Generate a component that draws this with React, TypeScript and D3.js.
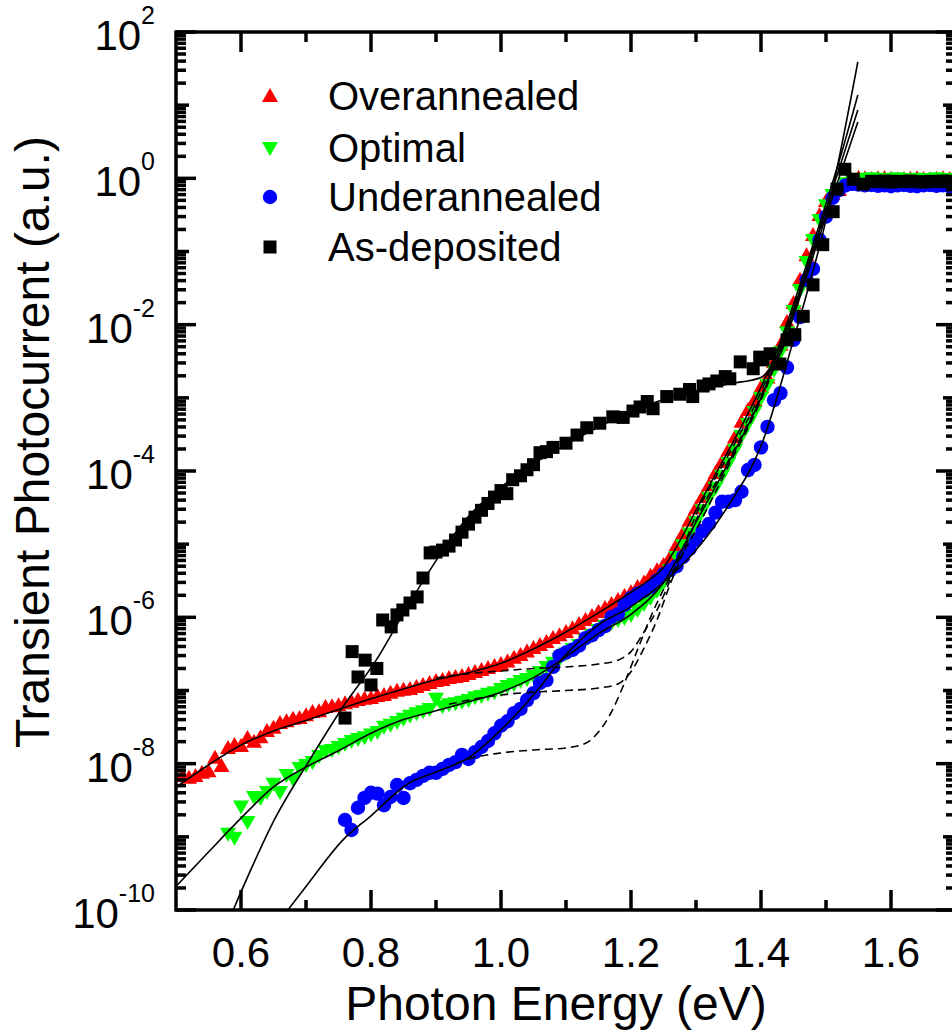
import React, { useEffect, useRef } from "react"
import * as d3 from "d3"

// ---- data (photon energy eV, transient photocurrent a.u.) ----
const overannealed: [number, number][] = [
  [0.51, 6.8e-9], [0.52, 6.4e-9], [0.53, 6.8e-9], [0.54, 7.5e-9], [0.55, 7.9e-9], [0.56, 1.2e-8], [0.57, 9.3e-9],
  [0.58, 1.64e-8], [0.59, 1.8e-8], [0.60, 1.75e-8], [0.61, 2.25e-8], [0.62, 2.0e-8], [0.63, 2.3e-8], [0.64, 2.8e-8],
  [0.65, 3.1e-8], [0.66, 3.6e-8], [0.67, 3.8e-8], [0.68, 4.1e-8], [0.69, 4.2e-8], [0.70, 4.6e-8], [0.71, 5.1e-8],
  [0.72, 5.2e-8], [0.73, 5.96e-8], [0.74, 6.1e-8], [0.75, 6.3e-8], [0.76, 6.7e-8], [0.77, 7.0e-8], [0.78, 7.4e-8],
  [0.79, 7.7e-8], [0.80, 7.9e-8], [0.81, 8.4e-8], [0.82, 8.7e-8], [0.83, 9.3e-8], [0.84, 9.9e-8], [0.85, 1.02e-7],
  [0.86, 1.05e-7], [0.87, 1.12e-7], [0.88, 1.19e-7], [0.89, 1.27e-7], [0.90, 1.35e-7], [0.91, 1.39e-7], [0.92, 1.48e-7],
  [0.93, 1.53e-7], [0.94, 1.58e-7], [0.95, 1.68e-7], [0.96, 1.79e-7], [0.97, 1.9e-7], [0.98, 2.03e-7], [0.99, 2.16e-7],
  [1.00, 2.3e-7], [1.01, 2.5e-7], [1.02, 2.8e-7], [1.03, 3.05e-7], [1.04, 3.4e-7], [1.05, 3.8e-7], [1.06, 4.2e-7],
  [1.07, 4.6e-7], [1.08, 5.2e-7], [1.09, 5.7e-7], [1.10, 6.3e-7], [1.11, 7.1e-7], [1.12, 8.1e-7], [1.13, 9.2e-7],
  [1.14, 1.04e-6], [1.15, 1.18e-6], [1.16, 1.34e-6], [1.17, 1.52e-6], [1.18, 1.73e-6], [1.19, 1.96e-6], [1.20, 2.2e-6],
  [1.21, 2.6e-6], [1.22, 3.0e-6], [1.23, 3.7e-6], [1.24, 4.4e-6], [1.25, 5.2e-6], [1.26, 6.5e-6], [1.27, 9.7e-6],
  [1.28, 1.4e-5], [1.29, 2.1e-5], [1.30, 3.1e-5], [1.31, 4.4e-5], [1.32, 6.4e-5], [1.33, 9.4e-5], [1.34, 1.33e-4],
  [1.35, 1.94e-4], [1.36, 2.9e-4], [1.37, 4.7e-4], [1.38, 6.8e-4], [1.39, 9.3e-4], [1.40, 1.4e-3], [1.41, 1.9e-3],
  [1.42, 3.1e-3], [1.43, 5.3e-3], [1.44, 1.09e-2], [1.45, 1.98e-2], [1.46, 4.1e-2], [1.47, 8.9e-2], [1.48, 0.168],
  [1.49, 0.315], [1.50, 0.49], [1.51, 0.61], [1.52, 0.69], [1.53, 0.81], [1.54, 0.95], [1.55, 1.02], [1.56, 1.0],
  [1.57, 0.98], [1.58, 1.0], [1.59, 1.01], [1.60, 0.99], [1.61, 0.97], [1.62, 0.98], [1.63, 0.99], [1.64, 1.0],
  [1.65, 0.98], [1.66, 0.97], [1.67, 0.99], [1.68, 1.0], [1.69, 0.98], [1.70, 0.99],
]

const optimal: [number, number][] = [
  [0.58, 1.1e-9], [0.59, 9.7e-10], [0.60, 2.6e-9], [0.61, 1.6e-9], [0.62, 3.5e-9], [0.63, 3.4e-9], [0.64, 4.1e-9],
  [0.65, 5.3e-9], [0.66, 4.1e-9], [0.67, 7.0e-9], [0.68, 6.2e-9], [0.69, 8.7e-9], [0.70, 9.6e-9], [0.71, 1.05e-8],
  [0.72, 1.27e-8], [0.73, 1.49e-8], [0.74, 1.54e-8], [0.75, 1.69e-8], [0.76, 1.86e-8], [0.77, 2.04e-8], [0.78, 2.18e-8],
  [0.79, 2.3e-8], [0.80, 2.5e-8], [0.81, 2.7e-8], [0.82, 3.2e-8], [0.83, 3.4e-8], [0.84, 3.7e-8], [0.85, 4.1e-8],
  [0.86, 4.5e-8], [0.87, 4.9e-8], [0.88, 5.2e-8], [0.89, 5.6e-8], [0.90, 7.7e-8], [0.91, 6.1e-8], [0.92, 6.5e-8],
  [0.93, 6.7e-8], [0.94, 7.0e-8], [0.95, 7.4e-8], [0.96, 8.1e-8], [0.97, 8.4e-8], [0.98, 9.0e-8], [0.99, 9.5e-8],
  [1.00, 1.05e-7], [1.01, 1.15e-7], [1.02, 1.23e-7], [1.03, 1.35e-7], [1.04, 1.44e-7], [1.05, 1.58e-7], [1.06, 1.79e-7],
  [1.07, 2.1e-7], [1.08, 2.4e-7], [1.09, 2.7e-7], [1.10, 3.2e-7], [1.11, 3.7e-7], [1.12, 4.2e-7], [1.13, 4.9e-7],
  [1.14, 5.7e-7], [1.15, 6.7e-7], [1.16, 7.6e-7], [1.17, 8.4e-7], [1.18, 9.2e-7], [1.19, 9.8e-7], [1.20, 1.08e-6],
  [1.21, 1.26e-6], [1.22, 1.52e-6], [1.23, 1.84e-6], [1.24, 2.3e-6], [1.25, 3.0e-6], [1.26, 4.4e-6], [1.27, 6.7e-6],
  [1.28, 9.7e-6], [1.29, 1.4e-5], [1.30, 2.0e-5], [1.31, 2.9e-5], [1.32, 4.3e-5], [1.33, 5.9e-5], [1.34, 8.6e-5],
  [1.35, 1.29e-4], [1.36, 1.94e-4], [1.37, 3.0e-4], [1.38, 4.4e-4], [1.39, 6.4e-4], [1.40, 1.0e-3], [1.41, 1.5e-3],
  [1.42, 2.4e-3], [1.43, 4.2e-3], [1.44, 7.9e-3], [1.45, 1.54e-2], [1.46, 2.98e-2], [1.47, 7.2e-2], [1.48, 0.144],
  [1.49, 0.27], [1.50, 0.43], [1.51, 0.59], [1.52, 0.74], [1.53, 0.86], [1.54, 0.95], [1.55, 0.99], [1.56, 0.98],
  [1.57, 1.0], [1.58, 0.97], [1.59, 0.99], [1.60, 0.98], [1.61, 1.0], [1.62, 0.97], [1.63, 0.98], [1.64, 0.99],
  [1.65, 0.97], [1.66, 0.98], [1.67, 1.0], [1.68, 0.98], [1.69, 0.97], [1.70, 0.99],
]

const underannealed: [number, number][] = [
  [0.76, 1.7e-9], [0.77, 1.24e-9], [0.78, 2.5e-9], [0.79, 3.4e-9], [0.80, 4.0e-9], [0.81, 3.9e-9], [0.82, 2.7e-9],
  [0.83, 3.5e-9], [0.84, 5.1e-9], [0.85, 3.4e-9], [0.86, 5.4e-9], [0.87, 6.0e-9], [0.88, 6.8e-9], [0.89, 7.5e-9],
  [0.90, 7.5e-9], [0.91, 8.5e-9], [0.92, 9.6e-9], [0.93, 1.05e-8], [0.94, 1.32e-8], [0.95, 1.16e-8], [0.96, 1.44e-8],
  [0.97, 1.69e-8], [0.98, 2.04e-8], [0.99, 2.6e-8], [1.00, 3.3e-8], [1.01, 3.8e-8], [1.02, 4.9e-8], [1.03, 5.6e-8],
  [1.04, 7.4e-8], [1.05, 9.2e-8], [1.06, 1.27e-7], [1.07, 1.39e-7], [1.08, 2.1e-7], [1.09, 3.0e-7], [1.10, 3.3e-7],
  [1.11, 3.6e-7], [1.12, 4.1e-7], [1.13, 5.2e-7], [1.14, 5.7e-7], [1.15, 6.7e-7], [1.16, 7.6e-7], [1.17, 1.01e-6],
  [1.18, 1.11e-6], [1.19, 1.48e-6], [1.20, 1.84e-6], [1.21, 2.1e-6], [1.22, 2.3e-6], [1.23, 2.6e-6], [1.24, 3.2e-6],
  [1.25, 3.9e-6], [1.26, 4.4e-6], [1.27, 5.0e-6], [1.28, 6.7e-6], [1.29, 8.6e-6], [1.30, 1.14e-5], [1.31, 1.51e-5],
  [1.32, 1.89e-5], [1.33, 2.7e-5], [1.34, 3.8e-5], [1.35, 3.8e-5], [1.36, 4.0e-5], [1.37, 5.2e-5], [1.38, 1.03e-4],
  [1.39, 1.21e-4], [1.40, 2.1e-4], [1.41, 4.0e-4], [1.42, 9.3e-4], [1.43, 1.16e-3], [1.44, 2.6e-3], [1.45, 6.2e-3],
  [1.46, 1.27e-2], [1.47, 4.1e-2], [1.48, 5.8e-2], [1.49, 0.144], [1.50, 0.30], [1.51, 0.54], [1.52, 0.69],
  [1.53, 0.80], [1.54, 0.84], [1.55, 0.82], [1.56, 0.80], [1.57, 0.81], [1.58, 0.79], [1.59, 0.80], [1.60, 0.78],
  [1.61, 0.80], [1.62, 0.81], [1.63, 0.79], [1.64, 0.78], [1.65, 0.80], [1.66, 0.81], [1.67, 0.79], [1.68, 0.80],
  [1.69, 0.78], [1.70, 0.80],
]

const asDeposited: [number, number][] = [
  [0.760, 4.2e-8], [0.771, 3.4e-7], [0.780, 1.53e-7], [0.791, 2.6e-7], [0.800, 1.19e-7], [0.809, 2.0e-7],
  [0.818, 9.2e-7], [0.831, 7.4e-7], [0.840, 1.08e-6], [0.849, 1.26e-6], [0.860, 1.57e-6], [0.871, 1.9e-6],
  [0.880, 3.45e-6], [0.891, 7.6e-6], [0.900, 7.8e-6], [0.910, 8.3e-6], [0.920, 9.4e-6], [0.930, 1.14e-5],
  [0.940, 1.46e-5], [0.950, 1.88e-5], [0.960, 2.34e-5], [0.970, 2.9e-5], [0.980, 3.6e-5], [0.990, 4.4e-5],
  [1.000, 5.4e-5], [1.009, 4.9e-5], [1.018, 7.6e-5], [1.030, 8.6e-5], [1.040, 1.04e-4], [1.050, 1.22e-4],
  [1.060, 1.78e-4], [1.070, 1.84e-4], [1.080, 2.1e-4], [1.100, 2.4e-4], [1.117, 3.1e-4], [1.132, 3.9e-4],
  [1.152, 4.5e-4], [1.172, 5.5e-4], [1.188, 5.4e-4], [1.203, 6.6e-4], [1.214, 7.5e-4], [1.225, 8.9e-4],
  [1.234, 7.1e-4], [1.255, 1.04e-3], [1.275, 1.12e-3], [1.290, 1.3e-3], [1.295, 1.04e-3], [1.311, 1.45e-3],
  [1.320, 1.55e-3], [1.332, 1.7e-3], [1.345, 1.95e-3], [1.352, 1.82e-3], [1.368, 3.1e-3], [1.388, 2.5e-3],
  [1.398, 3.6e-3], [1.403, 3.3e-3], [1.414, 4.0e-3], [1.429, 2.9e-3], [1.440, 6.2e-3], [1.452, 7.3e-3],
  [1.465, 1.3e-2], [1.480, 3.5e-2], [1.495, 0.124], [1.511, 0.35], [1.517, 0.71], [1.529, 1.33], [1.542, 0.97],
  [1.557, 0.83], [1.57, 0.91], [1.58, 0.90], [1.59, 0.92], [1.60, 0.89], [1.61, 0.91], [1.62, 0.90],
  [1.63, 0.92], [1.64, 0.90], [1.65, 0.89], [1.66, 0.91], [1.67, 0.90], [1.68, 0.92], [1.69, 0.90], [1.70, 0.91],
]

// fitted curves (solid) and partial fit components (dashed)
const fitOverannealed: [number, number][] = [
  [0.50, 4.8e-9], [0.55, 9.6e-9], [0.60, 1.8e-8], [0.65, 2.8e-8], [0.70, 3.9e-8], [0.75, 5.5e-8], [0.80, 7.7e-8],
  [0.85, 1.05e-7], [0.90, 1.4e-7], [0.95, 1.75e-7], [1.00, 2.35e-7], [1.05, 3.7e-7], [1.10, 6.3e-7], [1.15, 1.15e-6],
  [1.20, 2.2e-6], [1.225, 3.1e-6], [1.25, 4.8e-6], [1.275, 1.1e-5], [1.30, 2.9e-5], [1.325, 7.5e-5], [1.35, 1.9e-4],
  [1.375, 5e-4], [1.40, 1.4e-3], [1.425, 4.5e-3], [1.45, 1.9e-2], [1.475, 0.09], [1.50, 0.45], [1.525, 2.4], [1.549, 13.8],
]
const fitOptimal: [number, number][] = [
  [0.50, 2.1e-10], [0.55, 6.2e-10], [0.60, 1.8e-9], [0.65, 4.8e-9], [0.70, 9.0e-9], [0.75, 1.5e-8], [0.80, 2.6e-8],
  [0.85, 4.0e-8], [0.90, 5.3e-8], [0.95, 7.0e-8], [1.00, 9.5e-8], [1.05, 1.5e-7], [1.10, 2.9e-7], [1.15, 6.0e-7],
  [1.20, 1.1e-6], [1.25, 3.0e-6], [1.30, 2.0e-5], [1.35, 1.3e-4], [1.40, 1.0e-3], [1.45, 1.5e-2], [1.50, 0.37], [1.549, 8.6],
]
const fitUnderannealed: [number, number][] = [
  [0.672, 1e-10], [0.70, 2.1e-10], [0.757, 9.1e-10], [0.80, 1.94e-9], [0.858, 5.4e-9], [0.90, 7.7e-9], [0.95, 1.2e-8],
  [1.00, 2.9e-8], [1.05, 8.7e-8], [1.10, 3.1e-7], [1.15, 7.9e-7], [1.20, 1.4e-6], [1.25, 3.0e-6], [1.30, 8.3e-6],
  [1.35, 3.4e-5], [1.40, 2.2e-4], [1.45, 6.2e-3], [1.50, 0.27], [1.549, 39],
]
const fitAsDeposited: [number, number][] = [
  [0.588, 1e-10], [0.654, 1.9e-9], [0.705, 1.1e-8], [0.757, 6.0e-8], [0.808, 2.6e-7], [0.858, 1.5e-6], [0.911, 8.3e-6],
  [0.95, 2.4e-5], [1.00, 6.0e-5], [1.05, 1.25e-4], [1.10, 2.3e-4], [1.15, 4.0e-4], [1.20, 6.5e-4], [1.25, 9.5e-4],
  [1.30, 1.25e-3], [1.35, 1.55e-3], [1.40, 1.9e-3], [1.418, 2.8e-3], [1.43, 4.0e-3], [1.45, 1.3e-2], [1.50, 0.3], [1.549, 5.9],
]
const dashOverannealed: [number, number][] = [
  [0.90, 1.48e-7], [0.95, 1.7e-7], [1.00, 1.85e-7], [1.05, 2.0e-7], [1.10, 2.1e-7], [1.15, 2.3e-7], [1.18, 2.6e-7],
  [1.20, 3.4e-7], [1.22, 6.3e-7], [1.24, 1.26e-6], [1.26, 3.2e-6], [1.28, 8.9e-6], [1.30, 2.5e-5], [1.35, 1.66e-4],
  [1.40, 1.2e-3], [1.45, 1.7e-2], [1.50, 0.43],
]
const dashOptimal: [number, number][] = [
  [0.92, 6.5e-8], [0.95, 7.4e-8], [1.00, 8.7e-8], [1.05, 9.5e-8], [1.10, 1.0e-7], [1.15, 1.08e-7], [1.18, 1.23e-7],
  [1.20, 1.8e-7], [1.22, 3.8e-7], [1.24, 9.2e-7], [1.26, 2.8e-6], [1.28, 7.6e-6], [1.30, 2.1e-5], [1.35, 1.4e-4],
  [1.40, 1.06e-3], [1.45, 1.6e-2], [1.50, 0.39],
]
const dashUnderannealed: [number, number][] = [
  [0.93, 1.0e-8], [0.95, 1.16e-8], [1.00, 1.4e-8], [1.05, 1.54e-8], [1.10, 1.64e-8], [1.13, 1.9e-8], [1.15, 2.7e-8],
  [1.17, 5.1e-8], [1.19, 1.27e-7], [1.21, 3.6e-7], [1.23, 1.0e-6], [1.25, 2.4e-6], [1.27, 5.2e-6], [1.30, 1.56e-5],
  [1.35, 1.17e-4], [1.40, 9.3e-4], [1.45, 1.4e-2], [1.50, 0.35],
]

const seriesNames = ["Overannealed", "Optimal", "Underannealed", "As-deposited"]
const seriesColors = ["#ff0000", "#00ff00", "#0000ff", "#000000"]
const seriesShapes = ["up", "down", "circle", "square"]
const seriesData = [overannealed, optimal, underannealed, asDeposited]
const fitCurves = [fitOverannealed, fitOptimal, fitUnderannealed, fitAsDeposited]
const dashCurves = [dashOverannealed, dashOptimal, dashUnderannealed]

const xMajor = [0.6, 0.8, 1.0, 1.2, 1.4, 1.6]
const xLabels = ["0.6", "0.8", "1.0", "1.2", "1.4", "1.6"]
const xMinor = [0.7, 0.9, 1.1, 1.3, 1.5]
const yDecades = [-10, -9, -8, -7, -6, -5, -4, -3, -2, -1, 0, 1, 2]
const yLabelExps = ["2", "0", "-2", "-4", "-6", "-8", "-10"]

const FONT = "'Liberation Sans', Arial, Helvetica, sans-serif"

function marker(shape: string): string {
  if (shape === "up") return "M0,-8L8,6L-8,6Z"
  if (shape === "down") return "M0,8L8,-6L-8,-6Z"
  if (shape === "square") return "M-6.5,-6.5H6.5V6.5H-6.5Z"
  return "M7.2,0A7.2,7.2 0 1,1 -7.2,0A7.2,7.2 0 1,1 7.2,0Z"
}

export default function App() {
  const ref = useRef<SVGSVGElement>(null)

  useEffect(() => {
    const svg = d3.select(ref.current)
    svg.selectAll("*").remove()

    const left = 176, right = 956, top = 32, bottom = 910
    const x = d3.scaleLinear().domain([0.5, 1.7]).range([left, right])
    const y = d3.scaleLog().domain([1e-10, 1e2]).range([bottom, top])

    svg.append("defs").append("clipPath").attr("id", "plotClip")
      .append("rect").attr("x", left).attr("y", top).attr("width", right - left).attr("height", bottom - top)

    const plot = svg.append("g").attr("clip-path", "url(#plotClip)")

    // markers
    seriesData.forEach((data, i) => {
      plot.append("g")
        .selectAll("path")
        .data(data)
        .enter()
        .append("path")
        .attr("d", marker(seriesShapes[i]))
        .attr("transform", d => `translate(${x(d[0])},${y(d[1])})`)
        .attr("fill", seriesColors[i])
    })

    const line = d3.line<[number, number]>()
      .x(d => x(d[0]))
      .y(d => y(d[1]))
      .curve(d3.curveMonotoneX)

    dashCurves.forEach(c => {
      plot.append("path").attr("d", line(c)).attr("fill", "none")
        .attr("stroke", "#000").attr("stroke-width", 1.6).attr("stroke-dasharray", "8,5")
    })
    fitCurves.forEach(c => {
      plot.append("path").attr("d", line(c)).attr("fill", "none")
        .attr("stroke", "#000").attr("stroke-width", 1.6)
    })

    // frame and ticks
    const axes = svg.append("g").attr("stroke", "#000").attr("stroke-width", 3.5)
    axes.append("rect").attr("x", left).attr("y", top).attr("width", right - left).attr("height", bottom - top)
      .attr("fill", "none").attr("stroke-linecap", "square")

    const tick = (x1: number, y1: number, x2: number, y2: number) =>
      axes.append("line").attr("x1", x1).attr("y1", y1).attr("x2", x2).attr("y2", y2)

    xMajor.forEach(v => {
      tick(x(v), bottom, x(v), bottom - 20)
      tick(x(v), top, x(v), top + 20)
    })
    xMinor.forEach(v => {
      tick(x(v), bottom, x(v), bottom - 10)
      tick(x(v), top, x(v), top + 10)
    })
    yDecades.forEach(e => {
      const len = e % 2 === 0 ? 20 : 13
      const py = y(Math.pow(10, e))
      tick(left, py, left + len, py)
      tick(right, py, right - len, py)
      if (e < 2) {
        for (let m = 2; m <= 9; m++) {
          const pm = y(m * Math.pow(10, e))
          tick(left, pm, left + 10, pm)
          tick(right, pm, right - 10, pm)
        }
      }
    })

    // tick labels
    svg.append("g").selectAll("text").data(xMajor).enter().append("text")
      .attr("x", d => x(d)).attr("y", 967)
      .attr("text-anchor", "middle").attr("font-family", FONT).attr("font-size", 42)
      .text((d, i) => xLabels[i])

    yLabelExps.forEach(e => {
      const t = svg.append("text")
        .attr("x", 155).attr("y", y(Math.pow(10, +e)) + 18)
        .attr("text-anchor", "end").attr("font-family", FONT).attr("font-size", 42)
      t.append("tspan").text("10")
      t.append("tspan").attr("dy", -26).attr("font-size", 25).text(e)
    })

    // axis titles
    svg.append("text").attr("x", 556).attr("y", 1020).attr("text-anchor", "middle")
      .attr("font-family", FONT).attr("font-size", 48).text("Photon Energy (eV)")
    svg.append("text").attr("transform", "translate(49,442) rotate(-90)").attr("text-anchor", "middle")
      .attr("font-family", FONT).attr("font-size", 48).text("Transient Photocurrent (a.u.)")

    // legend
    const legendY = [96, 148, 197, 247]
    seriesNames.forEach((name, i) => {
      svg.append("path").attr("d", marker(seriesShapes[i]))
        .attr("transform", `translate(270,${legendY[i]})`).attr("fill", seriesColors[i])
      svg.append("text").attr("x", 328).attr("y", legendY[i] + 14)
        .attr("font-family", FONT).attr("font-size", 40).text(name)
    })
  }, [])

  return <svg ref={ref} width={952} height={1033} style={{ position: "absolute", left: 0, top: 0, background: "#fff" }} />
}
